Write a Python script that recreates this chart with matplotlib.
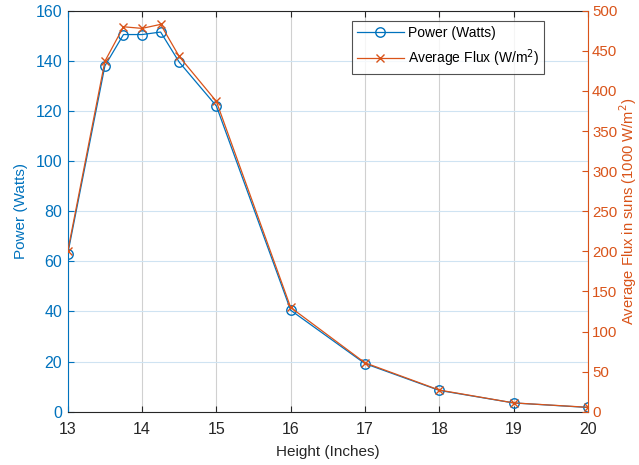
import numpy as np
import matplotlib
matplotlib.use("Agg")
import matplotlib.pyplot as plt
from matplotlib import rcParams

rcParams['font.family'] = ['Liberation Sans', 'DejaVu Sans']
rcParams['font.size'] = 11

height = [13, 13.5, 13.75, 14, 14.25, 14.5, 15, 16, 17, 18, 19, 20]
power = [63, 138, 150.5, 150.5, 151.5, 139.5, 122, 40.5, 19.2, 8.5, 3.5, 1.7]
flux = [200, 437, 480, 478, 483, 443, 387, 130, 61, 27, 11, 5.5]

blue = '#0072BD'
orange = '#D95319'

fig = plt.figure(figsize=(6.39, 4.65), dpi=100)
ax = fig.add_axes([0.106, 0.1146, 0.814, 0.8623])
ax2 = ax.twinx()

l1, = ax.plot(height, power, color=blue, marker='o', markersize=6.8,
              markerfacecolor='none', linewidth=0.9, label='Power (Watts)')
l2, = ax2.plot(height, flux, color=orange, marker='x', markersize=5.5,
               linewidth=0.9, label='Average Flux (W/m$^2$)')

ax.set_xlim(13, 20)
ax.set_ylim(0, 160)
ax2.set_ylim(0, 500)
ax.set_xticks(np.arange(13, 21, 1))
ax.set_yticks(np.arange(0, 161, 20))
ax2.set_yticks(np.arange(0, 501, 50))

ax.grid(axis='x', color='#d0d0d0', linewidth=0.8)
ax.grid(axis='y', color='#cfe3f2', linewidth=0.8)
ax.set_axisbelow(True)

ax.tick_params(direction='in', length=4, colors='#262626')
ax.tick_params(axis='y', colors=blue, labelsize=11.5, pad=4)
ax.tick_params(axis='x', labelsize=11.5, top=True, pad=7.5)
ax2.tick_params(direction='in', length=4, colors=orange, labelsize=10.8, pad=3)

for s in ['top', 'bottom']:
    ax.spines[s].set_color('#262626')
    ax2.spines[s].set_visible(False)
ax.spines['left'].set_color(blue)
ax2.spines['left'].set_visible(False)
ax2.spines['right'].set_color(orange)
ax.spines['right'].set_visible(False)

ax.set_xlabel('Height (Inches)', fontsize=11, color='#262626', labelpad=6)
ax.set_ylabel('Power (Watts)', fontsize=11, color=blue, labelpad=5)
ax2.set_ylabel('Average Flux in suns (1000 W/m$^2$)', fontsize=10.6, color=orange)
ax2.yaxis.set_label_coords(1.056, 0.5)

leg = ax2.legend(handles=[l1, l2], loc='upper left', bbox_to_anchor=(0.5465, 0.974),
                 fancybox=False, edgecolor='#262626', fontsize=10,
                 handlelength=3.4, handletextpad=0.3, borderpad=0.35,
                 labelspacing=0.55, borderaxespad=0)
leg.get_frame().set_linewidth(0.8)

plt.savefig('out.png', dpi=100)
